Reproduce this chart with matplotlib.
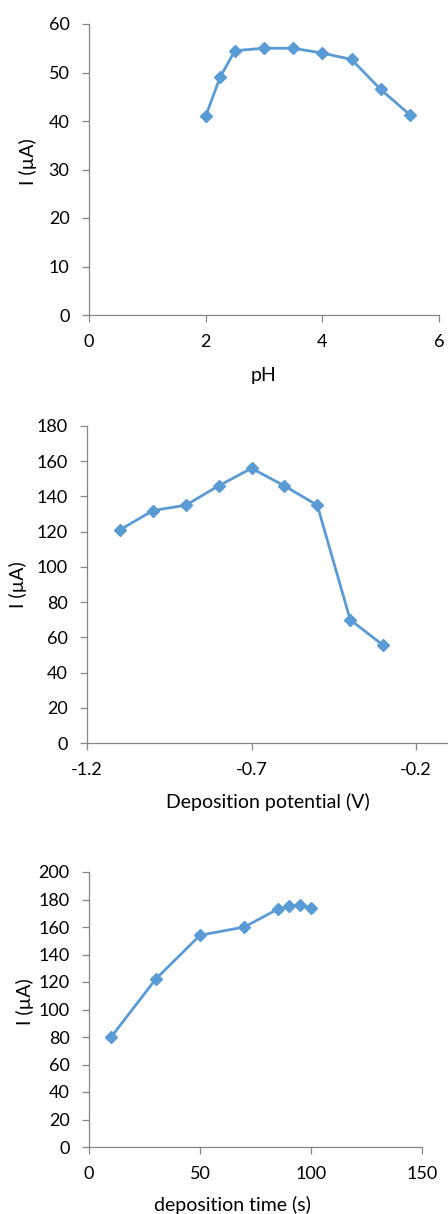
import matplotlib
matplotlib.use("Agg")
import matplotlib.pyplot as plt

# ---- data ----
ph_x = [2, 2.25, 2.5, 3, 3.5, 4, 4.5, 5, 5.5]
ph_y = [41, 49.1, 54.5, 55, 55, 54, 52.7, 46.5, 41.3]

pot_x = [-1.1, -1.0, -0.9, -0.8, -0.7, -0.6, -0.5, -0.4, -0.3]
pot_y = [121, 132, 135, 146, 156, 146, 135, 70, 55.5]

time_x = [10, 30, 50, 70, 85, 90, 95, 100]
time_y = [80, 122, 154, 160, 173, 175, 176, 174]

ph_xticks = [0, 2, 4, 6]
ph_yticks = [0, 10, 20, 30, 40, 50, 60]
pot_xticks = [-1.2, -0.7, -0.2]
pot_xticklabels = ["-1.2", "-0.7", "-0.2"]
pot_yticks = [0, 20, 40, 60, 80, 100, 120, 140, 160, 180]
time_xticks = [0, 50, 100, 150]
time_yticks = [0, 20, 40, 60, 80, 100, 120, 140, 160, 180, 200]

ylabel = "I (µA)"
xlabels = ["pH", "Deposition potential (V)", "deposition time (s)"]

# ---- style ----
plt.rcParams['font.family'] = ['Lato', 'DejaVu Sans']
plt.rcParams['axes.unicode_minus'] = False
LINE = "#5B9BD5"
SPINE = "#868686"
FS = 13
LFS = 14

W, H = 448, 1214
fig = plt.figure(figsize=(W / 100, H / 100), dpi=100)


def make_ax(l, t, r, b):
    return fig.add_axes([l / W, (H - b) / H, (r - l) / W, (b - t) / H])


def style(ax):
    for s in ("top", "right"):
        ax.spines[s].set_visible(False)
    for s in ("left", "bottom"):
        ax.spines[s].set_color(SPINE)
        ax.spines[s].set_linewidth(0.9)
    ax.tick_params(axis="both", colors=SPINE, labelcolor="black",
                   labelsize=FS, length=5, width=0.9, direction="out")
    ax.tick_params(axis="y", pad=9)
    ax.tick_params(axis="x", pad=9)


def plot(ax, x, y):
    ax.plot(x, y, color=LINE, lw=2.0, marker="D", ms=6.5,
            markerfacecolor=LINE, markeredgecolor=LINE, clip_on=False)


# Panel 1
ax1 = make_ax(89, 24, 439, 315)
plot(ax1, ph_x, ph_y)
ax1.set_xlim(0, 6)
ax1.set_ylim(0, 60)
ax1.set_xticks(ph_xticks)
ax1.set_yticks(ph_yticks)
style(ax1)
ax1.set_ylabel(ylabel, fontsize=LFS, va="center")
ax1.yaxis.set_label_coords((28 - 89) / 350, 0.526)
ax1.set_xlabel(xlabels[0], fontsize=LFS, va="center")
ax1.xaxis.set_label_coords(0.5, (315 - 375) / 291)

# Panel 2
ax2 = make_ax(87, 426, 448, 743)
plot(ax2, pot_x, pot_y)
ax2.set_xlim(-1.2, -1.2 + 361 / 329)
ax2.set_ylim(0, 180)
ax2.set_xticks(pot_xticks)
ax2.set_xticklabels(pot_xticklabels)
ax2.set_yticks(pot_yticks)
style(ax2)
ax2.set_ylabel(ylabel, fontsize=LFS, va="center")
ax2.yaxis.set_label_coords((18 - 87) / 361, 0.5)
ax2.set_xlabel(xlabels[1], fontsize=LFS, va="center")
ax2.xaxis.set_label_coords(0.5, (743 - 802) / 317)

# Panel 3
ax3 = make_ax(89, 872, 422, 1147)
plot(ax3, time_x, time_y)
ax3.set_xlim(0, 150)
ax3.set_ylim(0, 200)
ax3.set_xticks(time_xticks)
ax3.set_yticks(time_yticks)
style(ax3)
ax3.set_ylabel(ylabel, fontsize=LFS, va="center")
ax3.yaxis.set_label_coords((25 - 89) / 333, 0.527)
ax3.set_xlabel(xlabels[2], fontsize=LFS, va="center")
ax3.xaxis.set_label_coords((232.5 - 89) / 333, (1147 - 1205) / 275)

fig.savefig("out.png", dpi=100)
